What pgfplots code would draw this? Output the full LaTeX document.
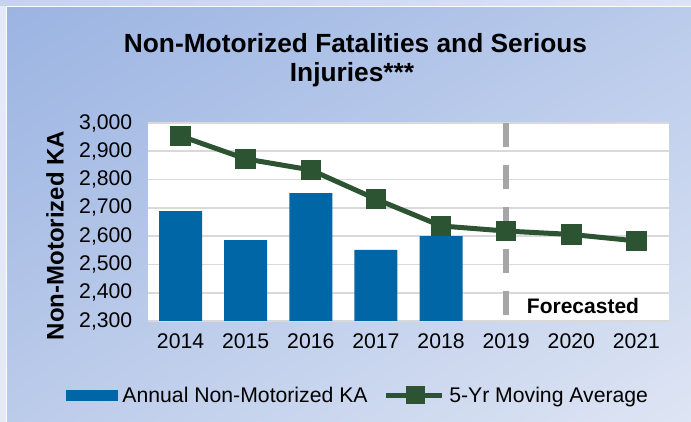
\documentclass[border=0pt]{standalone}
\usepackage{fontspec}
\setmainfont{Liberation Sans}
\usepackage{pgfplots}
\pgfplotsset{compat=1.18}
\usetikzlibrary{shadings}
\definecolor{barblue}{RGB}{0,102,165}
\definecolor{lgreen}{RGB}{45,84,50}
\definecolor{gridg}{RGB}{217,217,217}
\definecolor{dashg}{RGB}{166,166,166}
\definecolor{bgTL}{RGB}{155,180,226}
\definecolor{bgTR}{RGB}{186,203,235}
\definecolor{bgBL}{RGB}{187,203,234}
\definecolor{bgBR}{RGB}{222,229,244}
\definecolor{stripL}{RGB}{197,211,238}
\definecolor{stripR}{RGB}{220,227,243}
\definecolor{sideS}{RGB}{228,234,245}
\begin{document}
\begin{tikzpicture}[x=1pt,y=1pt]
\fill[white] (0,0) rectangle (691,422);
\fill[sideS] (0,0) rectangle (6,416);
\shade[left color=stripL, right color=stripR] (0,416) rectangle (691,422);
\shade[upper left=bgTL, upper right=bgTR, lower left=bgBL, lower right=bgBR] (7,0) rectangle (691,414);
\begin{axis}[
  at={(148pt,101pt)}, anchor=south west, scale only axis,
  width=521pt, height=198pt,
  xmin=-0.5, xmax=7.5, ymin=2300, ymax=3000,
  ytick={2300,2400,...,3000},
  xtick={0,...,7},
  xticklabels={2014,2015,2016,2017,2018,2019,2020,2021},
  axis line style={draw=none},
  major tick length=0pt,
  ymajorgrids,
  grid style={gridg, line width=1.6pt},
  axis background/.style={fill=white},
  clip=false,
  /pgf/number format/.cd, 1000 sep={,}, assume math mode=true,
  /pgfplots/.cd,
  ticklabel style={font=\fontsize{21.2}{24}\selectfont},
  yticklabel style={xshift=-12.2pt},
  xticklabel style={yshift=-9.2pt},
  legend style={at={(-0.1574,-0.3753)}, anchor=west, legend columns=2,
    draw=none, fill=none, inner sep=0pt, outer sep=0pt,
    font=\fontsize{21.2}{24}\selectfont,
    nodes={inner sep=4.5pt},
    /tikz/every even column/.append style={column sep=12pt}},
]
\addplot[ybar, bar width=43pt, fill=barblue, draw=none,
  legend image code/.code={\fill[barblue] (0pt,-5.3pt) rectangle (52pt,5.3pt);}]
  coordinates {(0,2688)(1,2586)(2,2752)(3,2551)(4,2600)};
\addlegendentry{Annual Non-Motorized KA}
\addplot[lgreen, line width=5pt, mark=square*, mark size=9.8pt,
  mark options={solid, fill=lgreen, draw=lgreen, line width=0pt},
  legend image code/.code={\draw[lgreen, line width=4.7pt] (0pt,0pt) -- (56pt,0pt);
    \fill[lgreen] (22pt,-6.4pt) rectangle (36pt,6.4pt);}]
  coordinates {(0,2954)(1,2873)(2,2834)(3,2731)(4,2636)(5,2618)(6,2606)(7,2583)};
\addlegendentry{5-Yr Moving Average}
\addplot[dashg, line width=5.5pt, dash pattern=on 24pt off 18pt, forget plot]
  coordinates {(5,3000)(5,2300)};
\end{axis}
\node[anchor=base, font=\bfseries\fontsize{26.3}{30}\selectfont] at (355.5,369.5) {Non-Motorized Fatalities and Serious};
\node[anchor=base, font=\bfseries\fontsize{26.3}{30}\selectfont] at (352,340) {Injuries***};
\node[rotate=90, font=\bfseries\fontsize{24}{27}\selectfont] at (55,186.5) {Non-Motorized KA};
\node[anchor=base, font=\bfseries\fontsize{21}{24}\selectfont] at (583,108.7) {Forecasted};
\end{tikzpicture}
\end{document}
